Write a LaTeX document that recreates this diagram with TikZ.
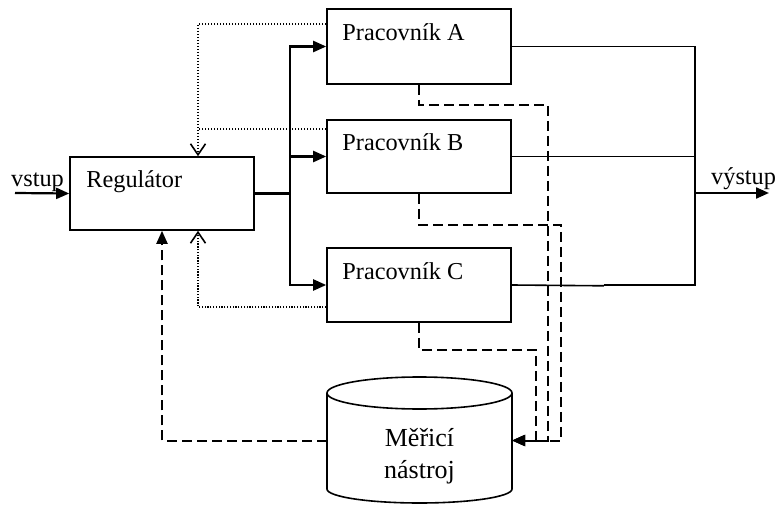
\documentclass[tikz,border=0pt]{standalone}
\usepackage{fontspec}
\setmainfont{Liberation Serif}
\usetikzlibrary{arrows.meta,calc}

\tikzset{
  blk/.style={draw, line width=1.6pt, inner sep=0pt, minimum width=184pt},
  lbl/.style={anchor=base west, inner sep=0pt, font=\fontsize{24.3}{29}\selectfont},
  toollbl/.style={anchor=base, inner sep=0pt, font=\fontsize{26}{31}\selectfont},
  ctl/.style={line width=2.2pt},
  outline/.style={line width=1.6pt},
  fill tip/.style={-{Triangle[length=13pt,width=11pt]}},
  open tip/.style={-{Straight Barb[length=11pt,width=15pt,line width=1.6pt]}},
  dotline/.style={line width=1.6pt, dash pattern=on 1.5pt off 1.5pt},
  dotfine/.style={line width=1.2pt, dash pattern=on 1.3pt off 1.5pt},
  measline/.style={line width=2pt, dash pattern=on 10pt off 5pt},
}

\begin{document}
\begin{tikzpicture}[x=1pt, y=-1pt]
\useasboundingbox (0,0) rectangle (777,505);

% controller and workers
\node[blk, minimum height=73pt] (reg) at (162,193.5) {};
\node[blk, minimum height=75pt] (rA)  at (419,46.5) {};
\node[blk, minimum height=73pt] (rB)  at (419,156.5) {};
\node[blk, minimum height=74pt] (rC)  at (419,285) {};

\node[lbl] (regT) at ([shift={(17,31)}]reg.north west) {Regulátor};
\node[lbl] (aT) at ([shift={(16,32)}]rA.north west) {Pracovník A};
\node[lbl] (bT) at ([shift={(16,31)}]rB.north west) {Pracovník B};
\node[lbl] (cT) at ([shift={(16,32)}]rC.north west) {Pracovník C};

% measuring tool (cylinder)
\node[minimum width=185pt, minimum height=127pt, inner sep=0pt] (tool) at (419.5,440.5) {};
\draw[outline] (327,393) -- (327,489)
  arc[start angle=180, end angle=360, x radius=92.5pt, y radius=14pt] -- (512,393);
\draw[outline] (419.5,393) ellipse [x radius=92.5pt, y radius=16pt];
\node[toollbl] (toolT1) at (419.5,446) {Měřicí};
\node[toollbl] (toolT2) at (419.5,478) {nástroj};

% input / output
\coordinate (inStart) at (15,193);
\coordinate (split) at (290,193.5);
\coordinate (bus) at (695,193);
\coordinate (outEnd) at (769,193);

\draw[ctl, fill tip] (inStart) -- (reg.west);
\node[lbl] (inT) at (11,187) {vstup};
\draw[ctl, fill tip] (bus) -- (outEnd);
\node[lbl] (outT) at (711,185) {výstup};

% control lines from the controller
\draw[ctl] (reg.east) -- (split);
\draw[ctl, fill tip] (split) |- (rA.west);
\draw[ctl, fill tip] (split) -- (rB.west -| split) -- (rB.west);
\draw[ctl, fill tip] (split) |- (rC.west);

% outputs of the workers
\draw[outline] (rA.east) -| (bus);
\draw[outline] (rB.east) -- (rB.east -| bus);
\draw[outline] (rC.east) -- ++(92,0.8);
\draw[outline] ([shift={(92,-0.2)}]rC.east) -| (bus);

% dotted feedback from the workers
\draw[dotline, open tip] (rA.west |- 0,24) -| (198,0 |- reg.north);
\draw[dotline] (rB.west |- 0,129) -- (198,129);
\draw[dotfine, open tip] (rC.west |- 0,307) -| (198,0 |- reg.south);

% dashed measurement lines
\draw[measline, fill tip] (rA.south) -- ++(0,20) -| (548,0 |- tool.east) -- (tool.east);
\draw[measline, fill tip] (rB.south) -- ++(0,31) -| (561,0 |- tool.east) -- (tool.east);
\draw[measline, fill tip] (rC.south) -- ++(0,27) -| (536,0 |- tool.east) -- (tool.east);
\draw[measline, fill tip] (tool.west) -| (reg.south);
\end{tikzpicture}
\end{document}
